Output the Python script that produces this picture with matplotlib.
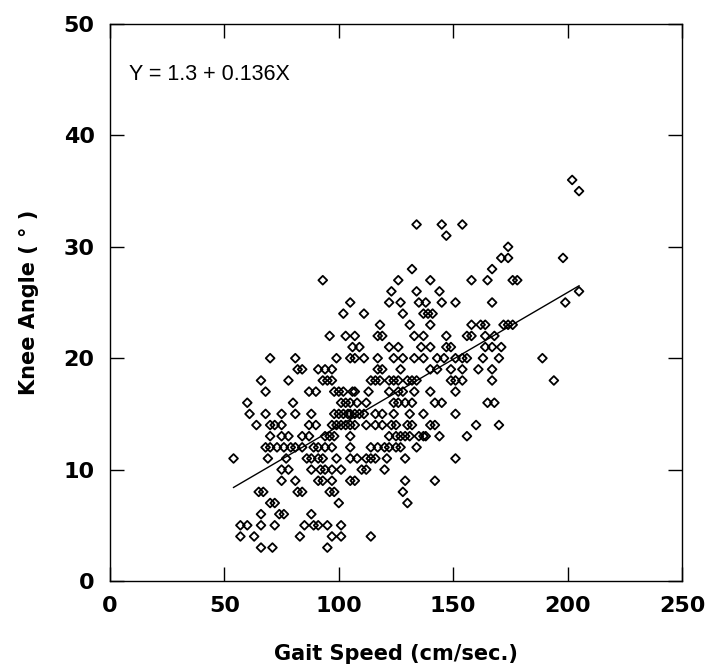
import numpy as np
import matplotlib
matplotlib.use('Agg')
import matplotlib.pyplot as plt

# Scatter values, one row per knee angle (deg)
knee_angle = (
    [36] + [35] + [32] * 3 + [31] + [30] + [29] * 3 + [28] * 2 + [27] * 7 + [26] * 4
    + [25] * 9 + [24] * 6 + [23] * 9 + [22] * 12 + [21] * 11 + [20] * 19 + [19] * 14
    + [18] * 19 + [17] * 15 + [16] * 15 + [15] * 19 + [14] * 23 + [13] * 19 + [12] * 19
    + [11] * 16 + [10] * 10 + [9] * 9 + [8] * 7 + [7] * 4 + [6] * 4 + [5] * 9 + [4] * 6 + [3] * 3
)
gait_speed = [
    202,
    205,
    134, 145, 154,
    147,
    174,
    171, 174, 198,
    132, 167,
    93, 126, 140, 158, 165, 176, 178,
    123, 134, 144, 205,
    105, 122, 127, 135, 138, 145, 151, 167, 199,
    102, 111, 128, 137, 139, 141,
    118, 131, 140, 158, 162, 164, 172, 174, 176,
    96, 103, 107, 117, 119, 133, 137, 147, 156, 158, 164, 168,
    106, 109, 122, 126, 136, 140, 147, 149, 164, 167, 171,
    70, 81, 99, 105, 107, 111, 117, 124, 128, 133, 137, 143, 146, 151, 154, 156, 163, 170, 189,
    82, 84, 91, 94, 97, 117, 119, 127, 140, 143, 149, 154, 161, 167,
    66, 78, 93, 95, 97, 114, 116, 118, 122, 124, 126, 130, 132, 134, 149, 151, 154, 167, 194,
    68, 87, 90, 98, 100, 102, 106, 107, 113, 122, 126, 128, 133, 140, 151,
    60, 80, 101, 103, 105, 108, 112, 124, 126, 129, 132, 142, 145, 165, 168,
    61, 68, 75, 81, 88, 98, 100, 102, 104, 105, 107, 109, 111, 116, 119, 124, 131, 137, 151,
    64, 70, 72, 75, 87, 90, 97, 99, 101, 103, 105, 107, 112, 116, 119, 123, 125, 130, 132, 140, 142, 160, 170,
    70, 75, 78, 84, 87, 94, 96, 98, 105, 122, 125, 127, 129, 131, 135, 137, 138, 144, 156,
    68, 70, 73, 76, 79, 81, 84, 89, 91, 94, 97, 105, 114, 117, 120, 122, 125, 127, 134,
    54, 69, 77, 86, 88, 91, 93, 99, 105, 108, 112, 114, 116, 121, 129, 151,
    75, 78, 88, 92, 94, 97, 101, 110, 112, 120,
    75, 81, 91, 93, 97, 105, 107, 129, 142,
    65, 67, 82, 84, 96, 98, 128,
    70, 72, 100, 130,
    66, 74, 76, 88,
    57, 60, 66, 72, 85, 89, 91, 95, 101,
    57, 63, 83, 97, 101, 114,
    66, 71, 95,
]

# regression line end points as drawn
fit_x = [54, 205]
fit_y = [8.4, 26.5]
equation = 'Y = 1.3 + 0.136X'

x_ticks = [0, 50, 100, 150, 200, 250]
y_ticks = [0, 10, 20, 30, 40, 50]

fig = plt.figure(figsize=(7.11, 6.72), dpi=100)
ax = fig.add_axes([0.1547, 0.1354, 0.8045, 0.8289])

ax.scatter(gait_speed, knee_angle, marker='D', s=20, facecolors='none',
           edgecolors='black', linewidths=1.3, zorder=3)
ax.plot(fit_x, fit_y, color='black', lw=1.0)

ax.set_xlim(0, 250)
ax.set_ylim(0, 50)
ax.set_xticks(x_ticks)
ax.set_yticks(y_ticks)
ax.tick_params(direction='in', length=10, width=1, top=True, right=True,
               labelsize=16, pad=11)
for lab in ax.get_xticklabels() + ax.get_yticklabels():
    lab.set_fontweight('bold')
for sp in ax.spines.values():
    sp.set_linewidth(1.0)

ax.text(8.5, 45.5, equation, fontsize=15.5, family='Liberation Sans', va='center')

ax.set_xlabel('Gait Speed (cm/sec.)', fontsize=15, fontweight='bold', labelpad=20)
ax.set_ylabel('Knee Angle ( ° )', fontsize=15, fontweight='bold', labelpad=18)

fig.savefig('out.png', dpi=100)
